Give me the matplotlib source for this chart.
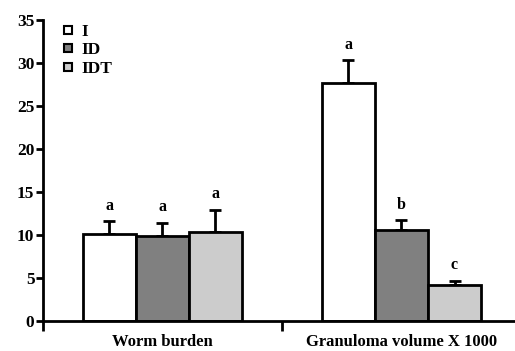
import matplotlib
matplotlib.use("Agg")
import matplotlib.pyplot as plt
from matplotlib.lines import Line2D
import numpy as np

plt.rcParams['font.family'] = ['Liberation Serif', 'DejaVu Serif']
plt.rcParams['font.weight'] = 'bold'

groups = ["Worm burden", "Granuloma volume X 1000"]
series = ["I", "ID", "IDT"]
colors = ["#ffffff", "#808080", "#cccccc"]
means = {
    "I": [10.1, 27.7],
    "ID": [9.9, 10.6],
    "IDT": [10.4, 4.2],
}
errs = {
    "I": [1.5, 2.6],
    "ID": [1.5, 1.1],
    "IDT": [2.5, 0.5],
}
letters = {
    "I": ["a", "a"],
    "ID": ["a", "b"],
    "IDT": ["a", "c"],
}

fig = plt.figure(figsize=(5.15, 3.51), dpi=100)
ax = fig.add_axes([0.083, 0.085, 0.917, 0.858])

width = 0.222
centers = np.arange(len(groups)) + 0.5
for i, s in enumerate(series):
    x = centers + (i - 1) * width
    ax.bar(x, means[s], width=width, color=colors[i], edgecolor='black',
           linewidth=2, zorder=2)
    ax.errorbar(x, means[s], yerr=[np.zeros(len(x)), errs[s]], fmt='none',
                ecolor='black', elinewidth=2, capsize=4, capthick=2, zorder=1)
    for xi, m, e, l in zip(x, means[s], errs[s], letters[s]):
        ax.text(xi, m + e + 0.9, l, ha='center', va='bottom', fontsize=11.5,
                fontweight='bold')

ax.set_xlim(0, 1.975)
ax.set_ylim(0, 35)
ax.set_yticks(np.arange(0, 36, 5))
ax.set_xticks([0, 1])
ax.set_xticklabels([])
ax.set_xticks(centers, minor=True)
ax.set_xticklabels(groups, minor=True)
ax.tick_params(axis='x', which='minor', length=0, labelsize=12, pad=9)
ax.tick_params(axis='x', which='major', length=7, width=2)
ax.tick_params(axis='y', length=5, width=2, labelsize=12.5, pad=1)
for lab in ax.get_yticklabels() + ax.get_xticklabels(minor=True):
    lab.set_fontweight('bold')

ax.spines['top'].set_visible(False)
ax.spines['right'].set_visible(False)
ax.spines['left'].set_linewidth(2)
ax.spines['bottom'].set_linewidth(2)

handles = [Line2D([], [], marker='s', ls='', markerfacecolor=c,
                  markeredgecolor='black', markeredgewidth=1.5, markersize=6)
           for c in colors]
leg = ax.legend(handles, series, loc='upper left', bbox_to_anchor=(0.005, 1.04),
                frameon=False, handlelength=0.8, handletextpad=0.4,
                labelspacing=0.15, prop={'weight': 'bold', 'size': 12.5})

fig.savefig("out.png", dpi=100)
